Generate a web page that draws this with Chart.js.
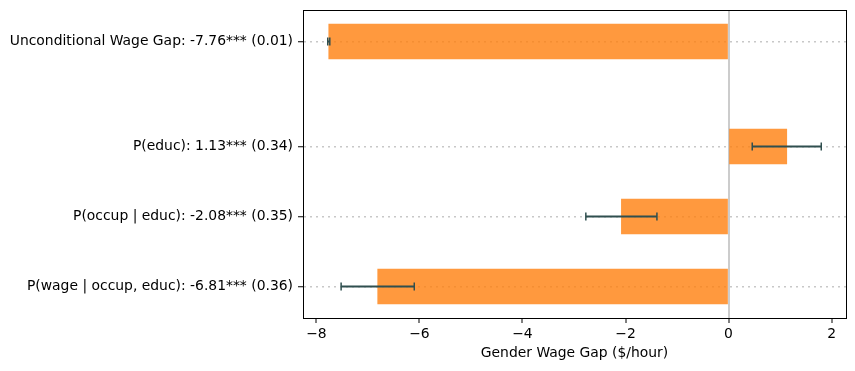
<!DOCTYPE html>
<html>
<head>
<meta charset="utf-8">
<script src="https://cdn.jsdelivr.net/npm/chart.js@4.4.1/dist/chart.umd.min.js"></script>
<style>
  html, body { margin: 0; padding: 0; background: #fff; }
  #wrap { width: 855px; height: 371px; }
</style>
</head>
<body>
<div id="wrap"><canvas id="gapChart" width="855" height="371"></canvas></div>
<script>
// Decomposition rows, bottom to top (y positions on a linear axis)
const labels = [
    'P(wage | occup, educ): -6.81*** (0.36)',
    'P(occup | educ): -2.08*** (0.35)',
    'P(educ): 1.13*** (0.34)',
    'Unconditional Wage Gap: -7.76*** (0.01)'
];
const positions = [0, 1, 2, 3.5];
const estimates = [-6.81, -2.08, 1.13, -7.76];
const ciHalfWidths = [0.71, 0.69, 0.67, 0.02];   // 95% interval half-widths
const xTicks = [-8, -6, -4, -2, 0, 2];

const FONT = 'DejaVu Sans, sans-serif';

// Error bars drawn on top of everything, like matplotlib's errorbar zorder
const errorBarPlugin = {
    id: 'errorBars',
    afterDraw(chart) {
        const { ctx, scales: { x, y } } = chart;
        ctx.save();
        ctx.strokeStyle = '#2f4f4f';
        estimates.forEach((est, i) => {
            const py = y.getPixelForValue(positions[i]);
            const x0 = x.getPixelForValue(est - ciHalfWidths[i]);
            const x1 = x.getPixelForValue(est + ciHalfWidths[i]);
            ctx.lineWidth = 2;
            ctx.beginPath();
            ctx.moveTo(x0, py);
            ctx.lineTo(x1, py);
            ctx.stroke();
            ctx.lineWidth = 1.5;
            [x0, x1].forEach(px => {
                ctx.beginPath();
                ctx.moveTo(px, py - 4);
                ctx.lineTo(px, py + 4);
                ctx.stroke();
            });
        });
        // frame around the plot area
        const a = chart.chartArea;
        ctx.strokeStyle = '#000';
        ctx.lineWidth = 1;
        ctx.strokeRect(Math.round(a.left) + 0.5, Math.round(a.top) + 0.5,
            Math.round(a.right - a.left), Math.round(a.bottom - a.top));
        ctx.restore();
    }
};

function createGapChart() {
    const ctx = document.getElementById('gapChart').getContext('2d');
    new Chart(ctx, {
        type: 'bar',
        data: {
            datasets: [{
                data: estimates.map((v, i) => ({ x: v, y: positions[i] })),
                backgroundColor: 'rgba(255, 127, 14, 0.8)',
                borderWidth: 0,
                barThickness: 35
            }]
        },
        options: {
            indexAxis: 'y',
            responsive: false,
            animation: false,
            layout: { padding: { top: 10, right: 9, left: 0, bottom: 0 } },
            plugins: {
                legend: { display: false },
                tooltip: { enabled: false }
            },
            scales: {
                x: {
                    type: 'linear',
                    min: -8.26,
                    max: 2.28,
                    afterBuildTicks: scale => {
                        scale.ticks = xTicks.map(v => ({ value: v }));
                    },
                    afterFit: scale => { scale.height = 53; },
                    border: { display: true, color: '#000', width: 1 },
                    grid: {
                        color: c => (c.tick && c.tick.value === 0) ? '#cccccc' : 'rgba(0,0,0,0)',
                        lineWidth: 2,
                        tickColor: '#000',
                        tickWidth: 1,
                        tickLength: 5
                    },
                    ticks: {
                        color: '#000',
                        font: { family: FONT, size: 13.9 },
                        padding: 3,
                        maxRotation: 0,
                        callback: v => v < 0 ? '\u2212' + Math.abs(v) : String(v)
                    },
                    title: {
                        display: true,
                        text: 'Gender Wage Gap ($/hour)',
                        color: '#000',
                        font: { family: FONT, size: 13.9 },
                        padding: { top: 0, bottom: 9 }
                    }
                },
                y: {
                    type: 'linear',
                    min: -0.45,
                    max: 3.95,
                    offset: false,
                    z: 1,
                    afterBuildTicks: scale => {
                        scale.ticks = positions.map(v => ({ value: v }));
                    },
                    afterFit: scale => {
                        scale.width = 303;
                        scale.paddingTop = 0;
                        scale.paddingBottom = 0;
                    },
                    border: { display: true, color: '#000', width: 1, dash: [2, 4] },
                    grid: {
                        offset: false,
                        color: '#c8c8c8',
                        lineWidth: 1.5,
                        tickColor: '#000',
                        tickBorderDash: [],
                        tickWidth: 1,
                        tickLength: 5
                    },
                    ticks: {
                        color: '#000',
                        font: { family: FONT, size: 13.9 },
                        padding: 5,
                        callback: v => labels[positions.indexOf(v)]
                    }
                }
            }
        },
        plugins: [errorBarPlugin]
    });
}

window.onload = createGapChart;
</script>
</body>
</html>
